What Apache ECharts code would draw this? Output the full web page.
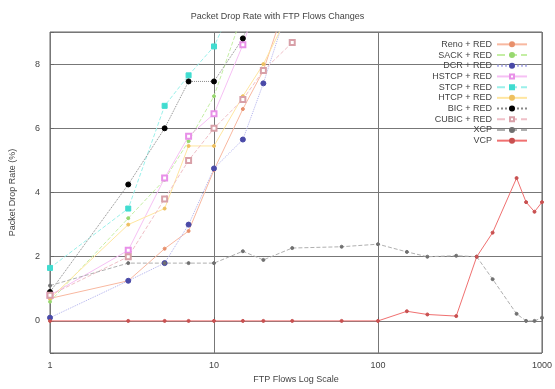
<!DOCTYPE html>
<html>
<head>
<meta charset="utf-8">
<script src="https://cdn.jsdelivr.net/npm/echarts@6/dist/echarts.min.js"></script>
<style>
html,body{margin:0;padding:0;background:#fff;}
#myChart{width:555px;height:389px;}
</style>
</head>
<body>
<div id="myChart"></div>
<script type="text/javascript">
//数据
var flowsShort = [1, 3, 5, 7, 10, 15, 20, 30];
var renoRed  = [0.7, 1.25, 2.25, 2.8, 4.7, 6.6, 7.8, 10.5];
var sackRed  = [0.6, 3.2, 4.4, 5.6, 7.0, 9.6, null, null];
var dcrRed   = [0.1, 1.25, 1.8, 3.0, 4.75, 5.65, 7.4, 10.2];
var hstcpRed = [0.8, 2.2, 4.45, 5.75, 6.45, 8.6, 10.5, null];
var stcpRed  = [1.65, 3.5, 6.7, 7.65, 8.55, 10.5, null, null];
var htcpRed  = [0.7, 3.0, 3.5, 5.45, 5.45, 7.0, 8.0, 9.8];
var bicRed   = [0.9, 4.25, 6.0, 7.46, 7.46, 8.8, 10.5, null];
var cubicRed = [0.8, 2.0, 3.8, 5.0, 6.0, 6.9, 7.8, 8.67];

var flowsLong = [1, 3, 5, 7, 10, 15, 20, 30, 60, 100, 150, 200, 300, 400, 500, 700, 800, 900, 1000];
var xcp = [1.1, 1.8, 1.8, 1.8, 1.8, 2.17, 1.9, 2.27, 2.31, 2.39, 2.15, 2.0, 2.03, 2.0, 1.3, 0.22, 0, 0, 0.1];
var vcp = [0, 0, 0, 0, 0, 0, 0, 0, 0, 0, 0.3, 0.2, 0.15, 2.0, 2.75, 4.45, 3.7, 3.4, 3.7];

var xTickLabels = ['1', '10', '100', '1000'];
var yTickLabels = ['0', '2', '4', '6', '8'];

function pairs(xs, ys)
{
	var out = [];
	for (var i = 0; i < xs.length; i++) {
		out.push([xs[i], ys[i]]);
	}
	return out;
}

function line(name, xs, ys, color, symbol, size, symColor, dash)
{
	return {
		name: name,
		type: 'line',
		data: pairs(xs, ys),
		symbol: symbol,
		symbolSize: size,
		showSymbol: true,
		connectNulls: false,
		clip: true,
		lineStyle: {color: color, width: 1, type: dash || 'solid'},
		itemStyle: {color: symColor || color, borderColor: symColor || color, borderWidth: 1},
		emphasis: {disabled: true},
		animation: false
	};
}

var option = {
	animation: false,
	backgroundColor: '#fff',
	title: {
		text: 'Packet Drop Rate with FTP Flows Changes',
		left: 'center',
		top: 7,
		textStyle: {fontFamily: 'Liberation Sans', fontSize: 9, fontWeight: 'normal', color: '#444'}
	},
	grid: {left: 48, right: 12, top: 32, bottom: 35, show: true, borderColor: '#666', borderWidth: 1},
	legend: {
		orient: 'vertical',
		right: 22,
		top: 34,
		align: 'right',
		itemGap: 0,
		itemWidth: 30,
		itemHeight: 5,
		textStyle: {fontFamily: 'Liberation Sans', fontSize: 9, lineHeight: 10.7, color: '#444', width: 70, align: 'right'}
	},
	xAxis: {
		type: 'log',
		logBase: 10,
		min: 1,
		max: 1000,
		name: 'FTP Flows Log Scale',
		nameLocation: 'middle',
		nameGap: 22,
		nameTextStyle: {fontFamily: 'Liberation Sans', fontSize: 9, color: '#444'},
		axisLine: {show: false},
		axisTick: {show: true, inside: true, length: 4, lineStyle: {color: '#666'}},
		minorTick: {show: false},
		axisLabel: {
			fontFamily: 'Liberation Sans', fontSize: 9, color: '#444', margin: 8,
			formatter: function (v) {
				var s = String(Math.round(v));
				return xTickLabels.indexOf(s) >= 0 ? s : '';
			}
		},
		splitLine: {show: true, lineStyle: {color: '#777', width: 1}}
	},
	yAxis: {
		type: 'value',
		min: -1,
		max: 9,
		splitNumber: 5,
		name: 'Packet Drop Rate (%)',
		nameLocation: 'middle',
		nameGap: 33,
		nameTextStyle: {fontFamily: 'Liberation Sans', fontSize: 9, color: '#444'},
		axisLine: {show: false},
		axisTick: {show: true, inside: true, length: 4, lineStyle: {color: '#666'}},
		axisLabel: {
			fontFamily: 'Liberation Sans', fontSize: 9, color: '#444', margin: 10,
			formatter: function (v) {
				var s = String(v);
				return yTickLabels.indexOf(s) >= 0 ? s : '';
			}
		},
		splitLine: {show: true, lineStyle: {color: '#777', width: 1}}
	},
	series: [
		line('Reno + RED', flowsShort, renoRed, '#f8b8a0', 'circle', 3, '#e8906c'),
		line('SACK + RED', flowsShort, sackRed, '#c4eea4', 'circle', 3, '#98d870', 'dashed'),
		line('DCR + RED', flowsShort, dcrRed, '#b0b0ec', 'circle', 5, '#4a4aa8', 'dotted'),
		line('HSTCP + RED', flowsShort, hstcpRed, '#f6c0f4', 'emptyRect', 5, '#e890e8'),
		line('STCP + RED', flowsShort, stcpRed, '#9af0ea', 'rect', 5, '#40dcd0', 'dashed'),
		line('HTCP + RED', flowsShort, htcpRed, '#ffe6a0', 'circle', 3, '#eec060'),
		line('BIC + RED', flowsShort, bicRed, '#888888', 'circle', 5, '#000000', 'dotted'),
		line('CUBIC + RED', flowsShort, cubicRed, '#f0c0c8', 'emptyRect', 5, '#d8a0a8', 'dashed'),
		line('XCP', flowsLong, xcp, '#b0b0b0', 'circle', 3, '#707070', 'dashed'),
		line('VCP', flowsLong, vcp, '#f07070', 'circle', 3, '#c85050')
	]
};
echarts.init(document.getElementById('myChart')).setOption(option);
</script>
</body>
</html>
